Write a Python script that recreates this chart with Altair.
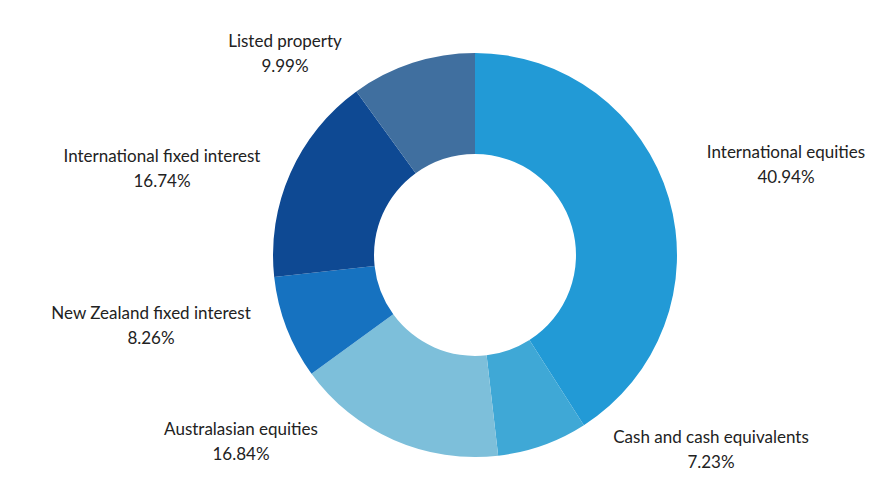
import altair as alt
import pandas as pd

categories = [
    "International equities",
    "Cash and cash equivalents",
    "Australasian equities",
    "New Zealand fixed interest",
    "International fixed interest",
    "Listed property",
]
values = [40.94, 7.23, 16.84, 8.26, 16.74, 9.99]
colors = ["#229ad6", "#3fa8d6", "#7dbfda", "#1672c0", "#0e4993", "#406f9f"]

# layout (pixel positions of label first-line centres inside the chart, not data)
CX, CY = 467, 247
R_OUT, R_IN = 202, 101
LABEL_POS = {
    "International equities": (778, 145),
    "Cash and cash equivalents": (703, 430),
    "Australasian equities": (233, 422),
    "New Zealand fixed interest": (143, 306),
    "International fixed interest": (154, 149),
    "Listed property": (277, 34),
}

df = pd.DataFrame({
    "category": categories,
    "value": values,
    "order": list(range(len(categories))),
})
df["label"] = [f"{c}\n{v:.2f}%" for c, v in zip(categories, values)]

base = alt.Chart(df)

arc = base.mark_arc(innerRadius=R_IN, outerRadius=R_OUT, stroke=None).encode(
    theta=alt.Theta("value:Q", stack=True),
    order=alt.Order("order:Q"),
    color=alt.Color("category:N", scale=alt.Scale(domain=categories, range=colors), legend=None),
    x=alt.value(CX),
    y=alt.value(CY),
)

texts = []
for c in categories:
    px, py = LABEL_POS[c]
    texts.append(
        base.transform_filter(alt.datum.category == c)
        .mark_text(font="Lato", fontSize=17, color="#222222", align="center",
                   baseline="middle", lineBreak="\n", lineHeight=25)
        .encode(text="label:N", x=alt.value(px), y=alt.value(py))
    )

chart = alt.layer(arc, *texts).properties(
    width=860, height=464, padding=0, autosize=alt.AutoSizeParams(type="none")
).configure_view(stroke=None)

chart.save("out.html", embed_options={"renderer": "svg", "actions": False})
